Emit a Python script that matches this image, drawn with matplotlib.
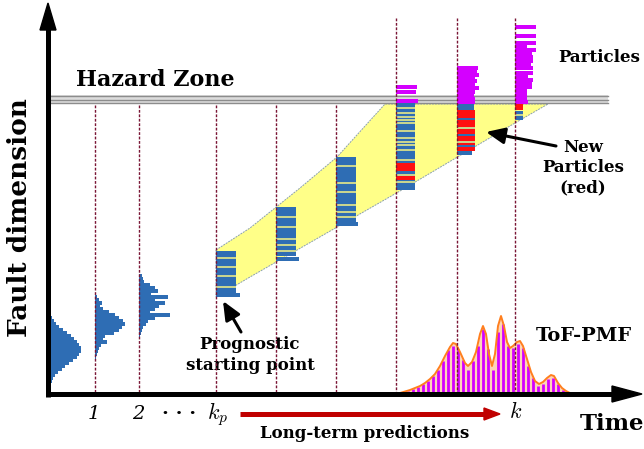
import numpy as np
import matplotlib.pyplot as plt
from matplotlib.patches import Polygon

plt.rcParams['mathtext.fontset'] = 'cm'
SERIF = ['DejaVu Serif']

# ---------------- data (schematic units: x = time, y = fault dimension, screen-like) -------------
step_x = [95, 139, 216, 276, 336, 396, 457, 515]          # time steps 1, 2, ..., kp, ..., k
step_top = [105, 105, 105, 105, 105, 18, 18, 18]          # where the dotted guides start

# initial-distribution histograms (bin centre, bar length)
hist0_y = [318, 321, 324, 327, 330, 333, 336, 339, 342, 345, 348, 351, 354, 357, 360, 363, 366, 369, 372, 375, 378, 381]
hist0_len = [2, 4, 6, 9, 13, 17, 21, 24, 27, 29, 31, 31, 29, 27, 23, 19, 15, 12, 8, 5, 3, 2]
hist1_y = [297, 300, 303, 306, 309, 312, 315, 318, 321, 324, 327, 330, 333, 336, 339, 342, 345, 348, 351, 354, 357]
hist1_len = [2, 4, 7, 5, 8, 14, 20, 24, 28, 30, 27, 24, 19, 10, 8, 12, 6, 4, 3, 2, 1]
hist2_y = [276, 279, 282, 285, 288, 291, 294, 297, 300, 303, 306, 309, 312, 315, 318, 321, 324, 327, 330, 333, 336]
hist2_len = [3, 4, 5, 11, 16, 19, 12, 29, 16, 26, 20, 16, 11, 31, 16, 9, 7, 4, 3, 2, 1]

# particle clouds per step: (top, bottom) of the dense blue cloud and thin gaps inside it
cloud_top = [251, 207, 157, 103, 103, 111]
cloud_bot = [293, 256, 222, 186, 110, 120]
cloud_w = [20, 20, 20, 19, 17, 8]
cloud_gaps = [[258, 267, 276, 287],
              [217, 227, 239, 245, 251],
              [166, 183, 192, 205, 212, 217],
              [108, 113, 117, 120, 123, 131, 138, 142, 145, 150, 160, 175, 182],
              [],
              [115]]
tail_y = [295, 259, 224, 188, 153, 0]
tail_w = [24, 23, 22, 19, 15, 0]

# new (red) particles
red_5 = [165, 169, 178]
red_6_top, red_6_bot = 110, 151
blue_6 = [119, 135, 146]
gap_6 = [128, 142]
red_7_top, red_7_bot = 104, 110

# particles above the hazard threshold
mag_5 = [87, 92, 101]
mag_5_w = [21, 20, 22]
mag_6 = [68, 72, 75, 78, 81, 84, 88, 92, 95, 99, 102]
mag_6_w = [21, 20, 22, 18, 20, 18, 22, 18, 17, 18, 18]
mag_7 = [27, 36, 43, 46, 50, 53, 57, 61, 65, 68, 73, 77, 80, 83, 87, 91, 95, 99, 102]
mag_7_w = [21, 21, 21, 12, 21, 17, 18, 18, 16, 18, 18, 13, 18, 17, 17, 12, 12, 12, 13]

# prediction band (upper and lower envelope)
band_upper_x = [216, 250, 300, 337, 385]
band_upper_y = [250, 228, 188, 157, 104]
band_lower_x = [548, 515, 400, 250, 216]
band_lower_y = [104, 123, 191, 277, 297]

# ToF-PMF
pmf_curve_x = [393, 400, 410, 420, 425, 430, 435, 440, 445, 450, 453, 456, 460, 465, 468, 472, 476, 480, 483,
               486, 489, 492, 495, 498, 501, 504, 507, 510, 513, 517, 520, 523, 527, 531, 535, 539, 543, 547,
               551, 554, 558, 562, 566, 570, 575]
pmf_curve_h = [0, 1, 4, 8, 11, 15, 20, 28, 38, 47, 51, 50, 42, 31, 28, 32, 42, 60, 68, 60, 40, 28, 40, 68, 78,
               68, 52, 46, 48, 52, 53, 48, 35, 22, 13, 10, 12, 16, 19, 18, 11, 6, 3, 1, 0]
pmf_stem_x = [403, 408, 413, 418, 423, 428, 433, 438, 443, 448, 453, 458, 463, 468, 473, 478, 483, 488, 493,
              498, 503, 508, 513, 518, 523, 528, 533, 538, 543, 548, 553, 558, 563]
pmf_stem_h = [2, 3, 5, 7, 10, 13, 18, 24, 33, 44, 48, 45, 34, 24, 33, 48, 65, 45, 24, 62, 70, 48, 46, 50, 46,
              28, 16, 8, 10, 15, 16, 10, 4]

BASE = 394
BLUE = '#2e6db4'
RED = '#ff1010'
MAG = '#d400ff'
STRIPE = '#c8d48e'
BAR = dict(snap=False, lw=0, antialiased=False)

# ---------------- figure ----------------
fig = plt.figure(figsize=(6.44, 4.49), dpi=100)
ax = fig.add_axes([0, 0, 1, 1])
ax.set_xlim(0, 644)
ax.set_ylim(449, 0)
ax.axis('off')

# yellow prediction band
poly = list(zip(band_upper_x, band_upper_y)) + list(zip(band_lower_x, band_lower_y))
ax.add_patch(Polygon(poly, closed=True, facecolor='#ffff88', edgecolor='#8aa0b0',
                     lw=0.7, ls=(0, (2, 1)), zorder=1))

# hazard zone
ax.fill_between([48, 608], 95, 104, color='#dcdcdc', zorder=2, lw=0)
for yy in (96, 99.5, 103):
    ax.plot([48, 608], [yy, yy], color='#8c8c8c', lw=1.0, zorder=2)

# dotted guides
for x, top in zip(step_x, step_top):
    ax.plot([x, x], [top, BASE - 2], color='#7a1535', lw=1.0, ls=(0, (2, 1.2)), zorder=6)

# histograms
for left, ys, ls in zip([50, step_x[0], step_x[1]], [hist0_y, hist1_y, hist2_y],
                        [hist0_len, hist1_len, hist2_len]):
    ax.barh(ys, ls, left=left, height=2.6, color=BLUE, zorder=3, **BAR)

# particle clouds
cols = step_x[2:]
for i, x in enumerate(cols):
    ax.barh([(cloud_top[i] + cloud_bot[i]) / 2], cloud_w[i], left=x, height=cloud_bot[i] - cloud_top[i],
            color=BLUE, zorder=4, **BAR)
    if cloud_gaps[i]:
        ax.barh(cloud_gaps[i], cloud_w[i], left=x, height=1.1, color=STRIPE, zorder=4.2, **BAR)
    if tail_w[i]:
        ax.barh([tail_y[i]], tail_w[i], left=x, height=2.6, color=BLUE, zorder=4, **BAR)

# new particles (red)
ax.barh(red_5, 19, left=step_x[5], height=2.6, color=RED, zorder=4.5, **BAR)
ax.barh([(red_6_top + red_6_bot) / 2], 18, left=step_x[6], height=red_6_bot - red_6_top, color=RED,
        zorder=4.5, **BAR)
ax.barh(blue_6, 18, left=step_x[6], height=1.6, color=BLUE, zorder=4.6, **BAR)
ax.barh(gap_6, 18, left=step_x[6], height=1.0, color=STRIPE, zorder=4.6, **BAR)
ax.barh([(red_7_top + red_7_bot) / 2], 8, left=step_x[7], height=red_7_bot - red_7_top, color=RED,
        zorder=4.5, **BAR)

# particles beyond the threshold
ax.barh(mag_5, mag_5_w, left=step_x[5], height=2.2, color=MAG, zorder=4, **BAR)
ax.barh(mag_6, mag_6_w, left=step_x[6], height=2.2, color=MAG, zorder=4, **BAR)
ax.barh(mag_7, mag_7_w, left=step_x[7], height=2.2, color=MAG, zorder=4, **BAR)

# ToF-PMF
cy = [BASE - h for h in pmf_curve_h]
ax.fill_between(pmf_curve_x, cy, BASE, color='#fdd5b8', lw=0, zorder=3)
ax.vlines(pmf_stem_x, [BASE - h for h in pmf_stem_h], BASE, color=MAG, lw=2.0, zorder=4)
ax.plot(pmf_curve_x, cy, color='#ff7f1e', lw=1.4, zorder=5)

# axes arrows
ax.plot([48, 48], [BASE + 3, 28], color='black', lw=3.6, solid_capstyle='butt', zorder=8)
ax.add_patch(Polygon([(40, 30), (56, 30), (48, 3)], closed=True, color='black', zorder=8))
ax.plot([46, 615], [BASE, BASE], color='black', lw=3.6, solid_capstyle='butt', zorder=8)
ax.add_patch(Polygon([(612, 386), (612, 402), (642, BASE)], closed=True, color='black', zorder=8))

# long-term prediction arrow
ax.plot([240, 486], [414, 414], color='#c00000', lw=3.6, solid_capstyle='butt', zorder=8)
ax.add_patch(Polygon([(484, 408), (484, 420), (500, 414)], closed=True, color='#c00000', zorder=8))

# tick labels
ax.text(94, 414, '1', fontsize=14, fontstyle='italic', family=SERIF, ha='center', va='center')
ax.text(138, 414, '2', fontsize=14, fontstyle='italic', family=SERIF, ha='center', va='center')
ax.text(179, 414, '· · ·', fontsize=14, fontweight='bold', family=SERIF, ha='center', va='center')
ax.text(218, 414, r'$k_p$', fontsize=16, ha='center', va='center')
ax.text(516, 412, r'$k$', fontsize=16, ha='center', va='center')

# texts
ax.text(155, 80, 'Hazard Zone', fontsize=16, fontweight='bold', family=SERIF, ha='center', va='center')
ax.text(20, 218, 'Fault dimension', fontsize=19, fontweight='bold', family=SERIF, ha='center',
        va='center', rotation=90)
ax.text(612, 424, 'Time', fontsize=16.5, fontweight='bold', family=SERIF, ha='center', va='center')
ax.text(365, 434, 'Long-term predictions', fontsize=12, fontweight='bold', family=SERIF, ha='center', va='center')
ax.text(599, 57, 'Particles', fontsize=12, fontweight='bold', family=SERIF, ha='center', va='center')
ax.text(584, 336, 'ToF-PMF', fontsize=14, fontweight='bold', family=SERIF, ha='center', va='center')
ax.text(583, 168, 'New\nParticles\n(red)', fontsize=12, fontweight='bold', family=SERIF, ha='center',
        va='center', linespacing=1.25)
ax.text(250, 355, 'Prognostic\nstarting point', fontsize=12, fontweight='bold', family=SERIF, ha='center',
        va='center', linespacing=1.3)

# annotation arrows
ax.annotate('', xy=(223, 301), xytext=(241, 332),
            arrowprops=dict(arrowstyle='-|>,head_length=0.8,head_width=0.35', color='black', lw=2.2,
                            mutation_scale=14, shrinkA=0, shrinkB=0), zorder=9)
ax.annotate('', xy=(486, 132), xytext=(556, 146),
            arrowprops=dict(arrowstyle='-|>,head_length=0.8,head_width=0.35', color='black', lw=2.2,
                            mutation_scale=14, shrinkA=0, shrinkB=0), zorder=9)

fig.savefig('out.png', dpi=100)
